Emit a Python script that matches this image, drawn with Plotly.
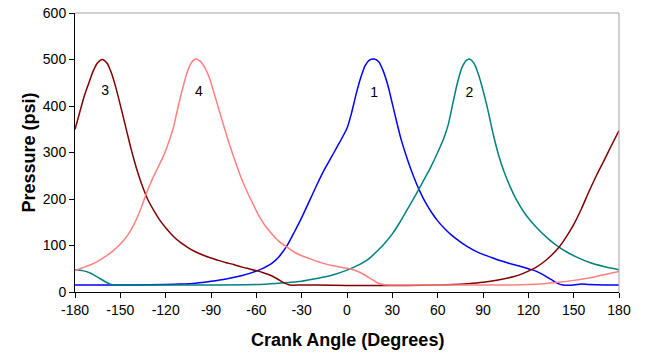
import plotly.graph_objects as go

# Cylinder 1 (blue)
c1_x = [-180, -160, -140, -120, -110, -100, -90, -80, -70, -60, -55, -50, -45, -40, -35, -30, -25, -20, -15, -10, -5, 0, 3, 6, 9, 12, 15, 18, 21, 24, 27, 30, 33, 36, 40, 44, 48, 52, 56, 60, 65, 70, 75, 80, 85, 90, 95, 100, 105, 110, 115, 120, 125, 130, 135, 139, 143, 150, 155, 160, 170, 180]
c1_y = [15, 15, 15, 16, 17, 19, 23, 28, 35, 45, 52, 61, 76, 98, 128, 160, 195, 230, 263, 292, 321, 352, 385, 425, 460, 487, 499, 501, 495, 475, 445, 405, 364, 326, 285, 249, 218, 192, 171, 153, 135, 120, 108, 97, 88, 81, 75, 69, 64, 59, 55, 50, 45, 37, 27, 19, 15, 15, 17, 16, 15, 15]

# Cylinder 2 (teal)
c2_x = [-180, -175, -170, -165, -160, -156, -150, -120, -90, -60, -45, -30, -20, -10, 0, 5, 10, 15, 20, 25, 30, 35, 40, 45, 50, 55, 60, 64, 67, 70, 73, 76, 79, 81, 84, 87, 90, 93, 96, 100, 104, 108, 112, 117, 122, 128, 134, 140, 146, 152, 161, 170, 180]
c2_y = [48, 46, 41, 32, 22, 16, 15, 15, 15, 16, 19, 23, 29, 36, 47, 54, 62, 73, 88, 105, 125, 150, 178, 206, 236, 266, 300, 330, 360, 405, 449, 482, 498, 501, 492, 468, 434, 395, 350, 298, 258, 226, 199, 172, 151, 130, 112, 97, 85, 75, 63, 55, 48]

# Cylinder 3 (dark red)
c3_x = [-180, -177, -174, -171, -168, -165, -162, -159, -156, -153, -150, -147, -144, -141, -138, -135, -132, -128, -124, -120, -115, -110, -105, -100, -95, -90, -85, -80, -75, -70, -65, -60, -55, -50, -46, -42, -38, -30, -20, 0, 20, 40, 60, 70, 80, 90, 100, 110, 115, 120, 125, 130, 135, 140, 145, 150, 155, 160, 165, 170, 175, 180]
c3_y = [350, 385, 420, 448, 475, 493, 500, 493, 472, 440, 402, 362, 322, 285, 252, 224, 200, 176, 155, 138, 120, 106, 95, 86, 79, 73, 68, 63, 59, 54, 50, 46, 41, 35, 28, 20, 15, 15, 15, 14, 14, 14, 15, 16, 18, 21, 26, 33, 38, 45, 53, 64, 78, 95, 118, 145, 178, 215, 250, 282, 315, 347]

# Cylinder 4 (salmon)
c4_x = [-180, -175, -170, -165, -160, -155, -150, -145, -140, -136, -133, -130, -127, -124, -121, -118, -115, -112, -109, -106, -103, -100, -97, -94, -91, -88, -85, -82, -79, -76, -73, -70, -66, -62, -58, -54, -50, -45, -40, -35, -30, -25, -20, -15, -10, -5, 0, 4, 8, 12, 16, 20, 24, 30, 60, 90, 110, 120, 130, 140, 150, 160, 170, 180]
c4_y = [46, 52, 58, 66, 76, 88, 103, 123, 152, 183, 210, 234, 255, 275, 296, 322, 352, 395, 435, 470, 493, 501, 496, 482, 460, 428, 395, 362, 330, 300, 272, 245, 215, 188, 162, 142, 126, 109, 97, 86, 78, 72, 66, 61, 57, 54, 51, 48, 43, 36, 28, 20, 16, 15, 15, 15, 15, 16, 18, 21, 25, 30, 37, 44]

labels = ["1", "2", "3", "4"]
label_x = [18, 81, -160, -98]
label_y = [427, 427, 431, 430]

x_ticks = list(range(-180, 181, 30))
y_ticks = list(range(0, 601, 100))

x_title = "Crank Angle (Degrees)"
y_title = "Pressure (psi)"

colors = ["#0000FF", "#008080", "#800000", "#FF8080"]

fig = go.Figure()
for xs, ys, c, name in [(c1_x, c1_y, colors[0], "1"), (c2_x, c2_y, colors[1], "2"),
                        (c3_x, c3_y, colors[2], "3"), (c4_x, c4_y, colors[3], "4")]:
    fig.add_trace(go.Scatter(x=xs, y=ys, mode="lines", name=name,
                             line=dict(color=c, width=1.5, shape="spline", smoothing=0.6),
                             showlegend=False, hoverinfo="skip"))

fig.add_trace(go.Scatter(x=label_x, y=label_y, mode="text", text=labels,
                         textfont=dict(family="Liberation Sans, Arial", size=14, color="black"),
                         showlegend=False, hoverinfo="skip"))

font = "Liberation Sans, Arial, sans-serif"
fig.update_layout(
    width=647, height=356,
    margin=dict(l=75, r=28, t=13, b=64, autoexpand=False),
    paper_bgcolor="white", plot_bgcolor="white",
    font=dict(family=font, size=14, color="black"),
    xaxis=dict(range=[-180, 180], tickvals=x_ticks, ticktext=[str(v) for v in x_ticks],
               showgrid=False, zeroline=False, showline=True, linecolor="black", linewidth=1,
               ticks="outside", ticklen=5, tickcolor="black", automargin=False),
    yaxis=dict(range=[0, 600], tickvals=y_ticks,
               showgrid=False, zeroline=False, showline=True, linecolor="black", linewidth=1,
               ticks="outside", ticklen=5, tickcolor="black", automargin=False),
    annotations=[
        dict(text="<b>" + x_title + "</b>", xref="paper", yref="paper", x=0.5, y=-48 / 279,
             xanchor="center", yanchor="middle", showarrow=False, font=dict(size=18, family=font)),
        dict(text="<b>" + y_title + "</b>", xref="paper", yref="paper", x=-47 / 544, y=0.5,
             xanchor="center", yanchor="middle", textangle=-90, showarrow=False,
             font=dict(size=18, family=font)),
    ],
    shapes=[
        dict(type="line", xref="paper", yref="paper", x0=0, x1=1, y0=1, y1=1,
             line=dict(color="#A0A0A0", width=1)),
        dict(type="line", xref="paper", yref="paper", x0=1, x1=1, y0=0, y1=1,
             line=dict(color="#A0A0A0", width=1)),
    ],
)

fig.write_html("out.html")
